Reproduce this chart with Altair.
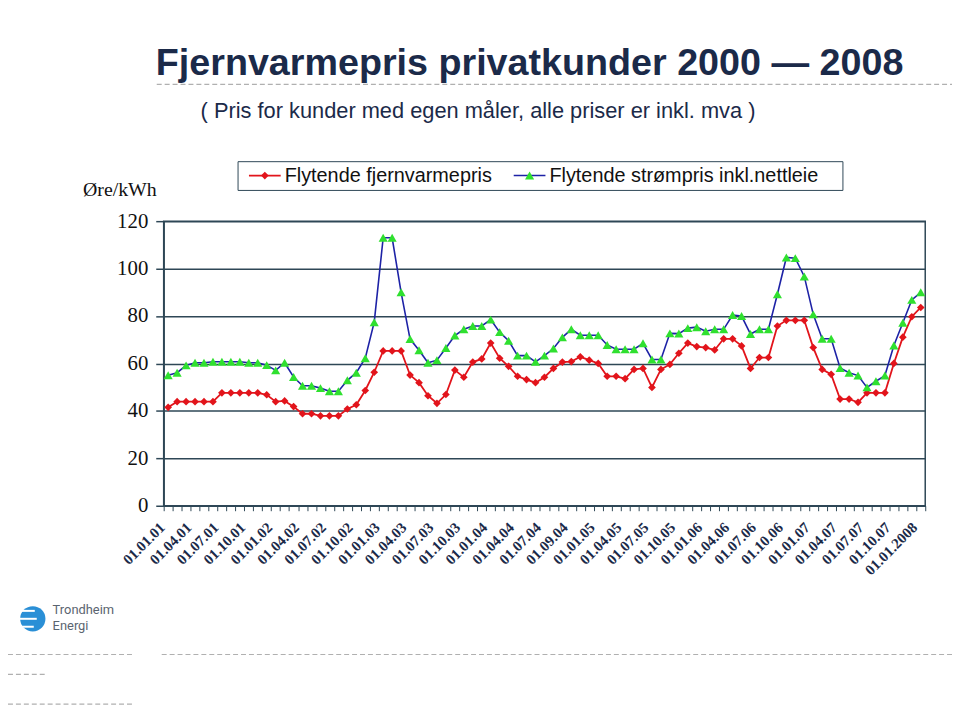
import json
import altair as alt
import pandas as pd

# ---------------- data ----------------
tick_labels = ["01.01.01", "01.04.01", "01.07.01", "01.10.01", "01.01.02", "01.04.02",
               "01.07.02", "01.10.02", "01.01.03", "01.04.03", "01.07.03", "01.10.03",
               "01.01.04", "01.04.04", "01.07.04", "01.09.04", "01.01.05", "01.04.05",
               "01.07.05", "01.10.05", "01.01.06", "01.04.06", "01.07.06", "01.10.06",
               "01.01.07", "01.04.07", "01.07.07", "01.10.07", "01.01.2008"]

fjernvarmepris = [41.5, 43.9, 43.9, 43.9, 43.9, 43.9, 47.6, 47.6, 47.6, 47.6,
                  47.6, 46.8, 43.9, 44.2, 41.8, 38.8, 38.8, 37.9, 37.9, 37.9,
                  40.8, 42.6, 48.6, 56.3, 65.3, 65.3, 65.3, 55.1, 51.9, 46.4,
                  43.2, 46.9, 57.2, 54.2, 60.6, 61.9, 68.6, 62.2, 58.8, 54.6,
                  53.2, 51.9, 54.2, 57.9, 60.6, 60.8, 62.8, 61.4, 60.0, 54.6,
                  54.6, 53.6, 57.5, 57.9, 49.9, 57.5, 59.6, 64.3, 68.6, 67.1,
                  66.7, 65.7, 70.4, 70.4, 67.4, 57.9, 62.5, 62.5, 75.8, 78.2,
                  78.2, 78.2, 66.7, 57.5, 55.4, 45.0, 45.0, 43.6, 47.6, 47.6,
                  47.6, 60.0, 71.1, 79.7, 83.6]

strompris = [55.0, 56.1, 59.2, 60.3, 60.3, 60.7, 60.7, 60.7, 60.7, 60.3,
             60.3, 59.3, 57.1, 60.3, 54.3, 50.6, 50.6, 49.6, 48.3, 48.3,
             52.9, 56.1, 62.2, 77.4, 113.0, 113.0, 90.0, 70.3, 65.6, 60.3,
             61.4, 66.5, 71.8, 74.4, 75.8, 75.8, 78.5, 73.2, 69.6, 63.3,
             63.3, 60.7, 63.3, 66.3, 71.0, 74.4, 71.9, 71.9, 71.9, 67.8,
             66.0, 66.0, 66.0, 68.5, 61.7, 61.7, 72.7, 72.6, 74.9, 75.3,
             73.6, 74.4, 74.4, 80.4, 80.0, 72.4, 74.4, 74.4, 89.2, 104.7,
             104.4, 96.7, 80.7, 70.4, 70.4, 58.1, 56.1, 54.9, 49.9, 52.5,
             54.9, 67.6, 77.2, 86.8, 90.0]

series_names = ["Flytende fjernvarmepris", "Flytende strømpris inkl.nettleie"]
title_text = "Fjernvarmepris privatkunder 2000 \u2014 2008"
subtitle_text = "( Pris for kunder med egen måler, alle priser er inkl. mva )"
y_title = "Øre/kWh"
logo_lines = ["Trondheim", "Energi"]
y_ticks = [0, 20, 40, 60, 80, 100, 120]

df = pd.DataFrame({"i": list(range(len(fjernvarmepris))),
                   "fv": fjernvarmepris, "st": strompris})

NAVY = "#1b2a49"
GRID = "#2e4756"
RED = "#e2141b"
BLUE = "#1d22a6"
GREEN = "#2fe02f"

n = len(fjernvarmepris)
label_expr = ("(round(datum.value + 0.5) % 3 == 0) ? " + json.dumps(tick_labels)
              + "[round(datum.value + 0.5) / 3] : ''")

x_scale = alt.Scale(domain=[-0.5, n - 0.5], nice=False, zero=False)
y_scale = alt.Scale(domain=[0, 120], nice=False)

x_axis = alt.Axis(values=[k - 0.5 for k in range(n + 1)], labelExpr=label_expr,
                  labelAngle=-45, labelAlign="right", labelBaseline="middle",
                  labelFont="Liberation Serif", labelFontWeight="bold", labelFontSize=15,
                  labelColor=NAVY, labelOverlap=False, labelFlush=False, labelPadding=14,
                  labelOffset=-2,
                  tickSize=5, tickColor=GRID, tickWidth=1, domainColor=GRID,
                  domainWidth=1.5, grid=False, title=None)
y_axis = alt.Axis(values=y_ticks, grid=True, gridColor=GRID, gridWidth=1.5,
                  tickSize=8, tickColor=GRID, tickWidth=1.5, domainColor=GRID,
                  domainWidth=1.5, labelFont="Liberation Serif", labelFontSize=21,
                  labelColor="#111111", labelPadding=8, title=None)

base = alt.Chart(df).encode(x=alt.X("i:Q", scale=x_scale, axis=x_axis))

line_fv = base.mark_line(color=RED, strokeWidth=1.8).encode(
    y=alt.Y("fv:Q", scale=y_scale, axis=y_axis))
pts_fv = base.mark_point(shape="diamond", filled=True, color=RED, size=60, opacity=1).encode(
    y=alt.Y("fv:Q", title=None))
line_st = base.mark_line(color=BLUE, strokeWidth=1.6).encode(y=alt.Y("st:Q", title=None))
pts_st = base.mark_point(shape="triangle-up", filled=True, color=GREEN, size=85, opacity=1).encode(
    y=alt.Y("st:Q", title=None))

one = pd.DataFrame({"k": [0]})

# titles
title = alt.Chart(pd.DataFrame({"t": [title_text]})).mark_text(
    font="Liberation Sans", fontWeight="bold", fontSize=38, color=NAVY,
    align="center", baseline="alphabetic").encode(
    x=alt.value(369), y=alt.value(-147), text="t:N")
subtitle = alt.Chart(pd.DataFrame({"t": [subtitle_text]})).mark_text(
    font="Liberation Sans", fontSize=22, color=NAVY,
    align="center", baseline="alphabetic").encode(
    x=alt.value(317), y=alt.value(-104), text="t:N")
ytitle = alt.Chart(pd.DataFrame({"t": [y_title]})).mark_text(
    font="Liberation Serif", fontSize=20, color="#111111",
    align="right", baseline="middle").encode(
    x=alt.value(-7), y=alt.value(-31), text="t:N")

# dashed decorative lines
def dash(x1, x2, y):
    return alt.Chart(one).mark_rule(color="#b0b0b0", strokeDash=[5, 3], strokeWidth=1.2).encode(
        x=alt.value(x1), x2=alt.value(x2), y=alt.value(y))

decos = [dash(-7, 795, -138), dash(-165, -30, 437), dash(-2, 795, 437),
         dash(-165, -120, 457), dash(-165, -30, 487)]

# legend
leg_box = alt.Chart(one).mark_rect(fill="white", stroke=GRID, strokeWidth=1).encode(
    x=alt.value(75), x2=alt.value(685), y=alt.value(-60), y2=alt.value(-31))
leg_l1 = alt.Chart(one).mark_rule(color=RED, strokeWidth=1.8).encode(
    x=alt.value(86), x2=alt.value(118), y=alt.value(-46))
leg_p1 = alt.Chart(one).mark_point(shape="diamond", filled=True, color=RED, size=60, opacity=1).encode(
    x=alt.value(102), y=alt.value(-46))
leg_l2 = alt.Chart(one).mark_rule(color=BLUE, strokeWidth=1.6).encode(
    x=alt.value(353), x2=alt.value(385), y=alt.value(-46))
leg_p2 = alt.Chart(one).mark_point(shape="triangle-up", filled=True, color=GREEN, size=85, opacity=1).encode(
    x=alt.value(369), y=alt.value(-46))
leg_t1 = alt.Chart(pd.DataFrame({"t": [series_names[0]]})).mark_text(
    font="Liberation Sans", fontSize=20, color="#111111", align="left", baseline="middle").encode(
    x=alt.value(122), y=alt.value(-45), text="t:N")
leg_t2 = alt.Chart(pd.DataFrame({"t": [series_names[1]]})).mark_text(
    font="Liberation Sans", fontSize=20, color="#111111", align="left", baseline="middle").encode(
    x=alt.value(389), y=alt.value(-45), text="t:N")

# logo
logo_circle = alt.Chart(one).mark_circle(color="#2a8fd6", size=650, opacity=1).encode(
    x=alt.value(-132), y=alt.value(401))
def stripe(x1, x2, y):
    return alt.Chart(one).mark_rule(color="white", strokeWidth=2).encode(
        x=alt.value(x1), x2=alt.value(x2), y=alt.value(y))
logo_stripes = [stripe(-146, -130, 393), stripe(-147, -128, 401), stripe(-146, -131, 409)]
logo_t1 = alt.Chart(pd.DataFrame({"t": [logo_lines[0]]})).mark_text(
    font="Roboto", fontSize=13, color="#5a6470", align="left", baseline="middle").encode(
    x=alt.value(-112), y=alt.value(392), text="t:N")
logo_t2 = alt.Chart(pd.DataFrame({"t": [logo_lines[1]]})).mark_text(
    font="Roboto", fontSize=13, color="#5a6470", align="left", baseline="middle").encode(
    x=alt.value(-112), y=alt.value(408), text="t:N")

chart = alt.layer(
    line_fv, pts_fv, line_st, pts_st,
    title, subtitle, ytitle, *decos,
    leg_box, leg_l1, leg_p1, leg_l2, leg_p2, leg_t1, leg_t2,
    logo_circle, *logo_stripes, logo_t1, logo_t2,
).properties(
    width=768, height=287,
    padding={"left": 157, "top": 212, "right": 27, "bottom": 203},
    autosize=alt.AutoSizeParams(type="none"),
    background="white",
).configure_view(stroke=GRID, strokeWidth=1.5)

chart.save("out.html", embed_options={"renderer": "svg", "actions": False})
